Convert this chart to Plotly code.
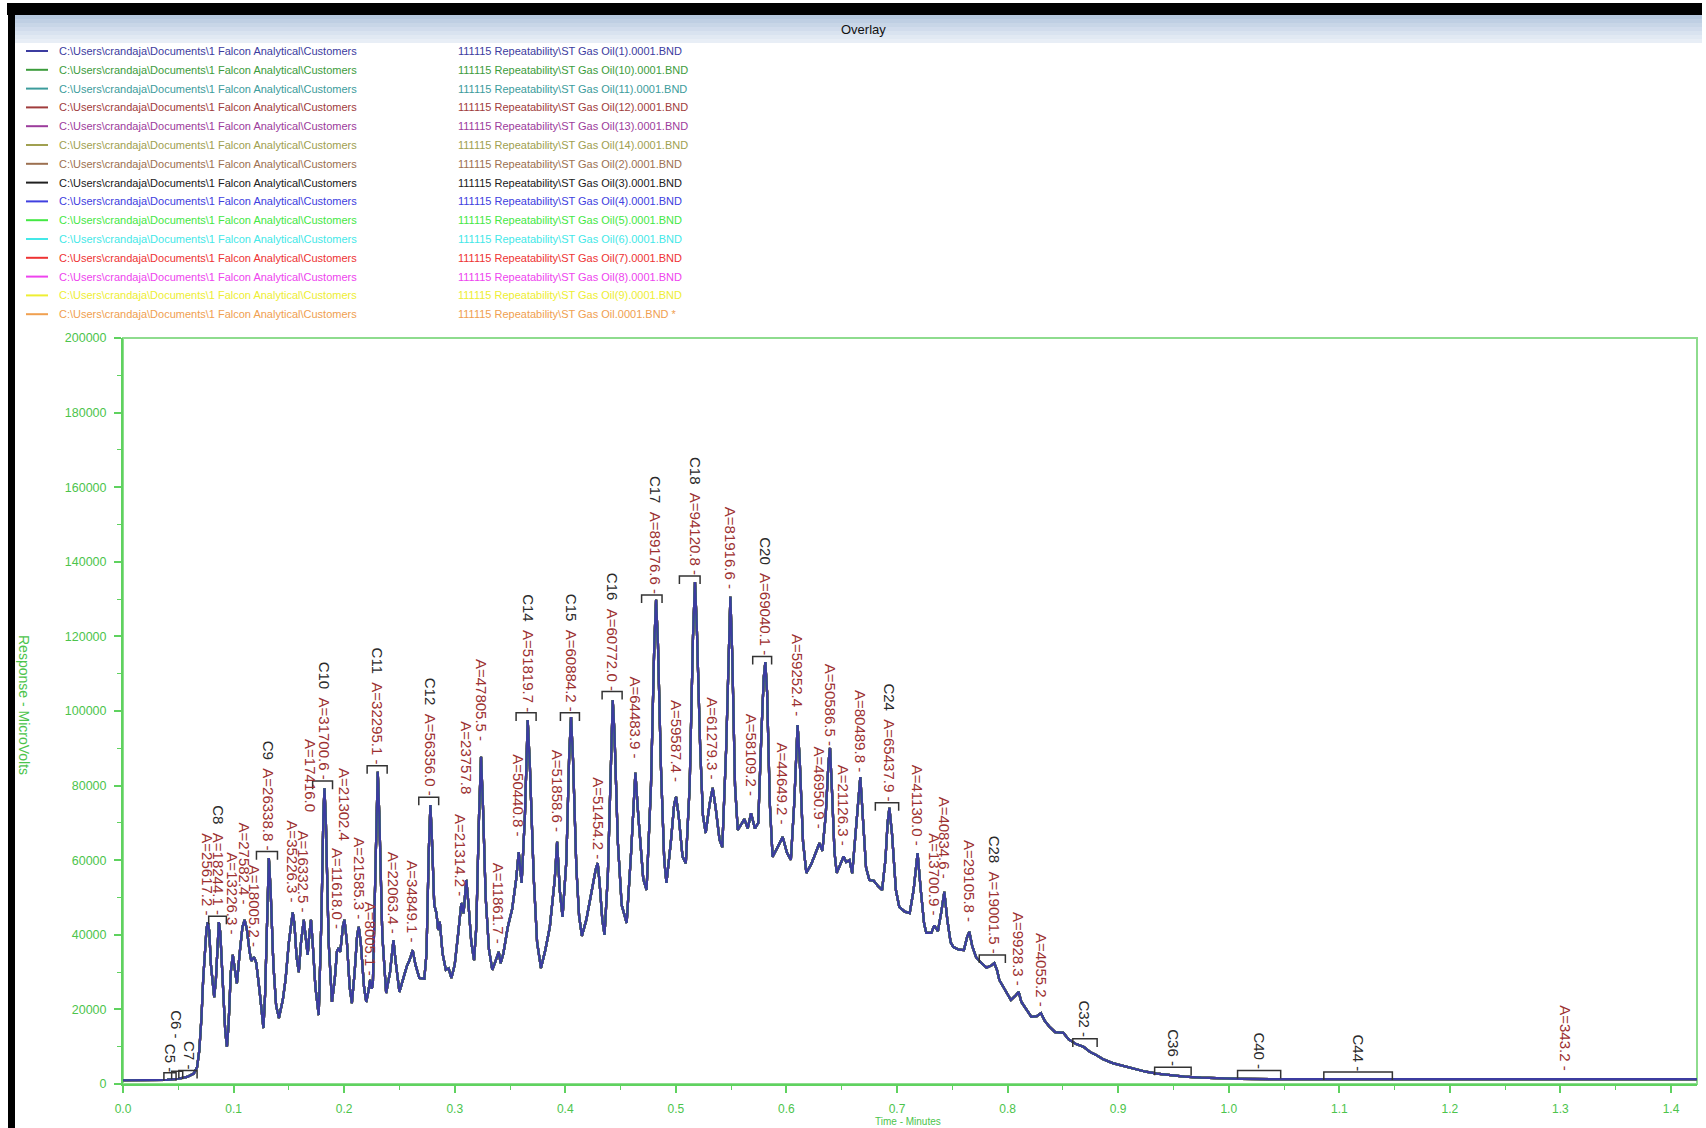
import plotly.graph_objects as go

# ---------------- DATA ----------------
# Overlaid chromatogram profile (time in minutes, response in microvolts)
time_min = [
    0.000, 0.030, 0.040, 0.050, 0.058, 0.064, 0.067, 0.069, 0.071, 0.0725, 0.074, 0.0755, 0.0767, 0.078,
    0.0795, 0.0815, 0.0825, 0.084, 0.0855, 0.0867, 0.088, 0.090, 0.0925, 0.094, 0.0955, 0.0975, 0.0993,
    0.101, 0.103, 0.1055, 0.108, 0.110, 0.112, 0.1145, 0.116, 0.1185, 0.1205, 0.1235, 0.126, 0.127,
    0.1285, 0.1305, 0.1319, 0.1335, 0.136, 0.1385, 0.141, 0.1445, 0.147, 0.150, 0.1525, 0.1535, 0.155,
    0.157, 0.159, 0.161, 0.1635, 0.1655, 0.167, 0.1685, 0.170, 0.1715, 0.174, 0.177, 0.1795, 0.1812,
    0.1822, 0.1835, 0.186, 0.189, 0.1915, 0.1935, 0.195, 0.1965, 0.199, 0.2003, 0.2025, 0.205, 0.207,
    0.2095, 0.2118, 0.2132, 0.215, 0.218, 0.220, 0.222, 0.2235, 0.225, 0.226, 0.2285, 0.2304, 0.2318,
    0.2345, 0.238, 0.2415, 0.2446, 0.2465, 0.250, 0.2535, 0.2565, 0.2595, 0.262, 0.2645, 0.268, 0.2725,
    0.2745, 0.2765, 0.278, 0.2795, 0.2815, 0.2835, 0.285, 0.2865, 0.289, 0.292, 0.2945, 0.297, 0.300,
    0.303, 0.306, 0.308, 0.3105, 0.3125, 0.315, 0.3175, 0.3195, 0.322, 0.3238, 0.3255, 0.328, 0.331,
    0.334, 0.337, 0.3398, 0.3415, 0.344, 0.348, 0.352, 0.3555, 0.3579, 0.3605, 0.3635, 0.366, 0.368,
    0.3715, 0.3745, 0.378, 0.382, 0.386, 0.3905, 0.3926, 0.395, 0.3975, 0.401, 0.4035, 0.4052, 0.407,
    0.410, 0.4125, 0.415, 0.419, 0.424, 0.4275, 0.4293, 0.431, 0.4335, 0.4355, 0.4385, 0.4415, 0.4429,
    0.4445, 0.4475, 0.451, 0.4555, 0.4595, 0.4634, 0.466, 0.4705, 0.4735, 0.4775, 0.4805, 0.4821,
    0.4838, 0.4865, 0.4895, 0.4915, 0.4955, 0.4985, 0.5002, 0.5025, 0.506, 0.509, 0.5125, 0.5155,
    0.5173, 0.519, 0.522, 0.5245, 0.527, 0.5305, 0.5333, 0.536, 0.5395, 0.542, 0.5455, 0.548, 0.5493,
    0.551, 0.5535, 0.556, 0.5595, 0.562, 0.565, 0.568, 0.5715, 0.5745, 0.5775, 0.5795, 0.5809, 0.5825,
    0.585, 0.5875, 0.592, 0.5966, 0.6005, 0.604, 0.607, 0.6088, 0.6101, 0.612, 0.615, 0.618, 0.6225,
    0.6265, 0.6298, 0.6325, 0.6355, 0.638, 0.6394, 0.641, 0.6435, 0.6455, 0.649, 0.6517, 0.654, 0.657,
    0.6595, 0.6635, 0.6668, 0.669, 0.672, 0.675, 0.679, 0.683, 0.6865, 0.6895, 0.6915, 0.6931, 0.6955,
    0.699, 0.702, 0.707, 0.7115, 0.715, 0.7186, 0.7215, 0.7245, 0.7265, 0.731, 0.7337, 0.737, 0.740,
    0.7428, 0.7455, 0.7485, 0.751, 0.756, 0.7605, 0.7635, 0.7654, 0.768, 0.7715, 0.776, 0.781, 0.7855,
    0.788, 0.7905, 0.7925, 0.798, 0.803, 0.8075, 0.810, 0.8125, 0.816, 0.8215, 0.8265, 0.8302, 0.8335,
    0.8375, 0.843, 0.8505, 0.855, 0.862, 0.869, 0.8745, 0.880, 0.886, 0.895, 0.905, 0.915, 0.925,
    0.935, 0.945, 0.960, 0.975, 0.990, 1.010, 1.050, 1.100, 1.200, 1.260, 1.268, 1.275, 1.345, 1.352,
    1.360, 1.4235,
]
response_uv = [
    1000, 1000, 1100, 1400, 1900, 2800, 4500, 9000, 18000, 28000, 36000, 41500, 43400, 41000,
    32000, 24500, 23300, 28000, 39000, 43400, 40500, 28000, 14000, 10000, 16000, 30000, 34600,
    31000, 27000, 35000, 42000, 44000, 41500, 35500, 33000, 34000, 32500, 25000, 17000, 15000,
    24000, 50000, 60600, 52000, 32000, 21000, 17700, 22500, 28000, 38000, 45000, 46000, 43000,
    34000, 30000, 38000, 44000, 38000, 34600, 40000, 44000, 38000, 26000, 18500, 45000, 72000,
    79300, 70000, 38000, 22000, 28000, 35500, 36500, 35400, 42500, 44000, 38000, 26000, 21700,
    30000, 40000, 42100, 38000, 26000, 22000, 25000, 27900, 25500, 27000, 60000, 83700, 72000,
    40000, 24400, 30000, 38600, 33000, 24700, 28000, 31400, 33500, 35900, 32000, 28400, 28200,
    35000, 62000, 74800, 65000, 48000, 45800, 41300, 43500, 35000, 30600, 31000, 28400, 32000,
    40000, 48500, 45800, 54700, 48000, 38000, 33200, 42000, 72000, 87700, 75000, 50000, 36000,
    30600, 33000, 35400, 32400, 35000, 42100, 47000, 54700, 62200, 53900, 72000, 97600, 85000,
    55000, 38000, 31100, 36000, 42100, 55000, 64900, 52000, 44800, 60000, 88000, 98400, 87000,
    58000, 45000, 39700, 44000, 52000, 57500, 59200, 54000, 44000, 40000, 56000, 92000, 102900,
    94000, 65000, 48000, 43200, 62000, 83400, 72000, 55000, 52000, 80000, 118000, 129800,
    118000, 85000, 60000, 53900, 65000, 75000, 77000, 72000, 61000, 59200, 80000, 120000,
    134600, 122000, 90000, 72000, 67300, 75000, 79400, 74000, 65500, 63500, 90000, 122000, 130600,
    115000, 80000, 68100, 70000, 71000, 68500, 72600, 68500, 70000, 95000, 109000, 113100, 105000,
    75000, 60900, 63500, 66200, 62000, 60100, 75000, 90000, 96200, 87000, 65000, 56600, 59000,
    62000, 64600, 62500, 72000, 86000, 90100, 80000, 62000, 56600, 59000, 61000, 59500, 60000,
    56500, 70000, 82300, 72000, 58000, 54700, 54500, 53000, 52000, 60000, 70000, 74000, 67000,
    52000, 47500, 46200, 45800, 52000, 61900, 52000, 43000, 40500, 40500, 42500, 41000, 46000,
    51500, 44000, 38000, 36700, 36000, 35900, 39500, 40800, 37000, 34000, 32500, 31200, 31800,
    32400, 30500, 27900, 25000, 22500, 23800, 24700, 22000, 20300, 18000, 18200, 19000, 17000,
    15500, 13900, 13700, 12000, 10700, 9900, 8600, 7800, 6700, 5600, 4800, 4000, 3300,
    2800, 2400, 2000, 1700, 1500, 1400, 1300, 1300, 1300, 1300, 1500, 1300, 1350, 1500,
    1350, 1300,
]

run_files = [
    r"111115 Repeatability\ST Gas Oil(1).0001.BND",
    r"111115 Repeatability\ST Gas Oil(10).0001.BND",
    r"111115 Repeatability\ST Gas Oil(11).0001.BND",
    r"111115 Repeatability\ST Gas Oil(12).0001.BND",
    r"111115 Repeatability\ST Gas Oil(13).0001.BND",
    r"111115 Repeatability\ST Gas Oil(14).0001.BND",
    r"111115 Repeatability\ST Gas Oil(2).0001.BND",
    r"111115 Repeatability\ST Gas Oil(3).0001.BND",
    r"111115 Repeatability\ST Gas Oil(4).0001.BND",
    r"111115 Repeatability\ST Gas Oil(5).0001.BND",
    r"111115 Repeatability\ST Gas Oil(6).0001.BND",
    r"111115 Repeatability\ST Gas Oil(7).0001.BND",
    r"111115 Repeatability\ST Gas Oil(8).0001.BND",
    r"111115 Repeatability\ST Gas Oil(9).0001.BND",
    r"111115 Repeatability\ST Gas Oil.0001.BND *",
]
run_path = r"C:\Users\crandaja\Documents\1 Falcon Analytical\Customers"
run_colors = [
    "#3c3ca0", "#3c9c3c", "#3c9c9c", "#a03c3c", "#9c3c9c", "#a0a050", "#9c7050", "#202020",
    "#4040e0", "#44e844", "#44e8e8", "#ee3333", "#ee44ee", "#eeee33", "#f0a050",
]

# Peak annotations: carbon number, area, retention time, label base response, trailing dash
label_carbon = ["C5", "C6", "C7", "", "C8", "", "", "", "C9", "", "", "", "C10", "", "", "", "", "C11",
                "", "", "C12", "", "", "", "", "", "C14", "", "C15", "", "C16", "", "C17", "", "C18",
                "", "", "", "C20", "", "", "", "", "", "", "C24", "", "", "", "", "C28", "", "",
                "C32", "C36", "C40", "C44", ""]
label_area = ["", "", "", "25617.2", "18244.1", "13226.3", "27582.4", "18005.2", "26338.8", "35226.3",
              "16332.5", "17416.0", "31700.6", "11618.0", "21302.4", "21585.3", "8005.1", "32295.1",
              "22063.4", "34849.1", "56356.0", "21314.2", "23757.8", "47805.5", "11861.7", "50440.8",
              "51819.7", "51858.6", "60884.2", "51454.2", "60772.0", "64483.9", "89176.6", "59587.4",
              "94120.8", "61279.3", "81916.6", "58109.2", "69040.1", "44649.2", "59252.4", "46950.9",
              "50586.5", "21126.3", "80489.8", "65437.9", "41130.0", "13700.9", "40834.6", "29105.8",
              "19001.5", "9928.3", "4055.2", "", "", "", "", "343.2"]
label_time = [0.0425, 0.0489, 0.0601, 0.0767, 0.0867, 0.0993, 0.1099, 0.1189, 0.1319, 0.1535,
              0.1635, 0.1700, 0.1822, 0.1940, 0.2003, 0.2132, 0.2235, 0.2304, 0.2446, 0.2620,
              0.2780, 0.3058, 0.3103, 0.3238, 0.3398, 0.3579, 0.3660, 0.3926, 0.4052, 0.4293,
              0.4429, 0.4634, 0.4821, 0.5002, 0.5173, 0.5333, 0.5493, 0.5680, 0.5809, 0.5966,
              0.6101, 0.6298, 0.6394, 0.6517, 0.6668, 0.6931, 0.7186, 0.7337, 0.7428, 0.7654,
              0.7880, 0.8100, 0.8302, 0.8700, 0.9500, 1.0280, 1.1170, 1.3050]
label_base = [3000, 12000, 3600, 45000, 45000, 39900, 48000, 36400, 62300, 48500,
              45800, 72500, 81200, 41300, 64900, 44000, 28700, 85300, 39900, 37800,
              76900, 50100, 77500, 91700, 37300, 66200, 99500, 67300, 99500, 60100,
              105200, 86900, 131100, 80700, 136200, 81500, 132400, 77000, 114600, 69400,
              98500, 68100, 90400, 63600, 83300, 75400, 63600, 44900, 54700, 43100,
              34600, 26100, 20400, 12100, 4500, 3600, 3200, 3300]
label_dash = [True] * 58
label_dash[11] = False
label_dash[14] = False
label_dash[22] = False

# Carbon-number integration brackets: start time, end time, bracket level
bracket_start = [0.0370, 0.0440, 0.0505, 0.0775, 0.1207, 0.1715, 0.2208, 0.2675, 0.3555, 0.3956,
                 0.4333, 0.4690, 0.5032, 0.5695, 0.6804, 0.7744, 0.8590, 0.9330, 1.0080, 1.0860]
bracket_end = [0.0480, 0.0540, 0.0670, 0.0935, 0.1397, 0.1895, 0.2389, 0.2855, 0.3736, 0.4128,
               0.4514, 0.4875, 0.5219, 0.5866, 0.7015, 0.7980, 0.8810, 0.9660, 1.0470, 1.1480]
bracket_level = [3000, 3400, 3600, 45000, 62300, 81200, 85300, 76900, 99500, 99500,
                 105200, 131100, 136200, 114600, 75400, 34600, 12100, 4500, 3600, 3200]

y_ticks = [0, 20000, 40000, 60000, 80000, 100000, 120000, 140000, 160000, 180000, 200000]
x_ticks = [0.0, 0.1, 0.2, 0.3, 0.4, 0.5, 0.6, 0.7, 0.8, 0.9, 1.0, 1.1, 1.2, 1.3, 1.4]

# ---------------- STYLE / LAYOUT ----------------
W, H = 1706, 1128
ML, MR, MT, MB = 123, 9, 338, 44
PW, PH = W - ML - MR, H - MT - MB
NARROW = "Liberation Sans Narrow, Arial Narrow, Liberation Sans, Arial, sans-serif"
SANS = "Liberation Sans, Arial, sans-serif"
AXIS_GREEN = "#5fd25f"
TEXT_GREEN = "#4cc44c"
AREA_RED = "#9c3030"
BRACKET_DROP = 2150


def px(xp):
    return (xp - ML) / PW


def py(yp):
    return (MT + PH - yp) / PH


fig = go.Figure()

for i in reversed(range(len(run_files))):
    fig.add_trace(go.Scatter(
        x=time_min, y=response_uv, mode="lines",
        line=dict(color=run_colors[i], width=2.2),
        name=run_files[i], showlegend=False, hoverinfo="skip",
    ))

shapes = []
annotations = []

# window chrome: black frame and "Overlay" title bar
shapes.append(dict(type="rect", xref="paper", yref="paper", x0=px(7), x1=px(1702), y0=py(3), y1=py(15),
                   fillcolor="#000000", line=dict(width=0), layer="below"))
shapes.append(dict(type="rect", xref="paper", yref="paper", x0=px(8), x1=px(15), y0=py(3), y1=py(H + 2),
                   fillcolor="#000000", line=dict(width=0), layer="below"))
grad = ["#b6c8de", "#bfcfe3", "#c8d6e7", "#d1dcec", "#d9e3f0", "#e1e9f3", "#e8eef6"]
for k, c in enumerate(grad):
    y0 = 15 + k * 4
    shapes.append(dict(type="rect", xref="paper", yref="paper", x0=px(15), x1=px(1702),
                       y0=py(y0), y1=py(y0 + 4), fillcolor=c, line=dict(width=0), layer="below"))
annotations.append(dict(text="Overlay", xref="paper", yref="paper", x=px(863), y=py(29),
                        xanchor="center", yanchor="middle", showarrow=False,
                        font=dict(family=NARROW, size=13, color="#111111")))

# legend block (two columns per run)
for i, f in enumerate(run_files):
    yrow = 51 + 18.8 * i
    shapes.append(dict(type="line", xref="paper", yref="paper", x0=px(26), x1=px(48),
                       y0=py(yrow), y1=py(yrow), line=dict(color=run_colors[i], width=2)))
    annotations.append(dict(text=run_path, xref="paper", yref="paper", x=px(57), y=py(yrow),
                            xanchor="left", yanchor="middle", showarrow=False,
                            font=dict(family=NARROW, size=11, color=run_colors[i])))
    annotations.append(dict(text=f, xref="paper", yref="paper", x=px(456), y=py(yrow),
                            xanchor="left", yanchor="middle", showarrow=False,
                            font=dict(family=NARROW, size=11, color=run_colors[i])))

# plot frame (lighter green box)
shapes.append(dict(type="rect", xref="paper", yref="paper", x0=0, x1=1, y0=0, y1=1,
                   line=dict(color="#8edc8e", width=2), layer="below"))

# integration brackets
for t0, t1, lv in zip(bracket_start, bracket_end, bracket_level):
    shapes.append(dict(type="path", xref="x", yref="y",
                       path=f"M {t0},{lv - BRACKET_DROP} L {t0},{lv} L {t1},{lv} L {t1},{lv - BRACKET_DROP}",
                       line=dict(color="#333333", width=1.5)))

# peak labels (rotated, reading top to bottom)
for c, a, t, b, d in zip(label_carbon, label_area, label_time, label_base, label_dash):
    parts = []
    if c:
        parts.append(f"<span style='color:#2a2a2a'>{c}</span>")
    if a:
        parts.append(f"A={a}")
    txt = "\u00a0\u00a0".join(parts)
    if d:
        dash = "-" if a else "<span style='color:#2a2a2a'>-</span>"
        txt += "\u00a0" + dash
    annotations.append(dict(text=txt, x=t, y=b, xref="x", yref="y", textangle=90,
                            xanchor="center", yanchor="bottom", showarrow=False, borderpad=0,
                            font=dict(family=SANS, size=15, color=AREA_RED)))

# axis titles
annotations.append(dict(text="Response - MicroVolts", xref="paper", yref="paper", x=px(24), y=py(705),
                        textangle=90, xanchor="center", yanchor="middle", showarrow=False,
                        font=dict(family=SANS, size=14, color=TEXT_GREEN)))
annotations.append(dict(text="Time - Minutes", xref="paper", yref="paper", x=px(908), y=py(1115),
                        xanchor="center", yanchor="top", showarrow=False, borderpad=0,
                        font=dict(family=SANS, size=10, color=TEXT_GREEN)))

fig.update_layout(
    width=W, height=H,
    margin=dict(l=ML, r=MR, t=MT, b=MB, pad=0),
    paper_bgcolor="white", plot_bgcolor="white",
    showlegend=False,
    shapes=shapes, annotations=annotations,
    xaxis=dict(
        range=[0, 1.4235], tickmode="array", tickvals=x_ticks,
        ticktext=[f"{v:.1f}" for v in x_ticks],
        ticks="outside", ticklen=7, tickwidth=1.5, tickcolor=AXIS_GREEN,
        showline=True, linecolor=AXIS_GREEN, linewidth=2, showgrid=False, zeroline=False,
        tickfont=dict(family=NARROW, size=12, color=TEXT_GREEN), ticklabelstandoff=6,
        minor=dict(ticks="outside", ticklen=4, tickwidth=1, tickcolor=AXIS_GREEN, dtick=0.05,
                   tick0=0, showgrid=False),
    ),
    yaxis=dict(
        range=[0, 200000], tickmode="array", tickvals=y_ticks,
        ticktext=[str(v) for v in y_ticks],
        ticks="outside", ticklen=7, tickwidth=1.5, tickcolor=AXIS_GREEN,
        showline=True, linecolor=AXIS_GREEN, linewidth=2, showgrid=False, zeroline=False,
        tickfont=dict(family=NARROW, size=12.5, color=TEXT_GREEN), ticklabelstandoff=5,
        minor=dict(ticks="outside", ticklen=4, tickwidth=1, tickcolor=AXIS_GREEN, dtick=10000,
                   tick0=0, showgrid=False),
    ),
)

fig.write_html("out.html", config={"displayModeBar": False},
               post_script="document.body.style.margin='0';document.body.style.overflow='hidden';")
